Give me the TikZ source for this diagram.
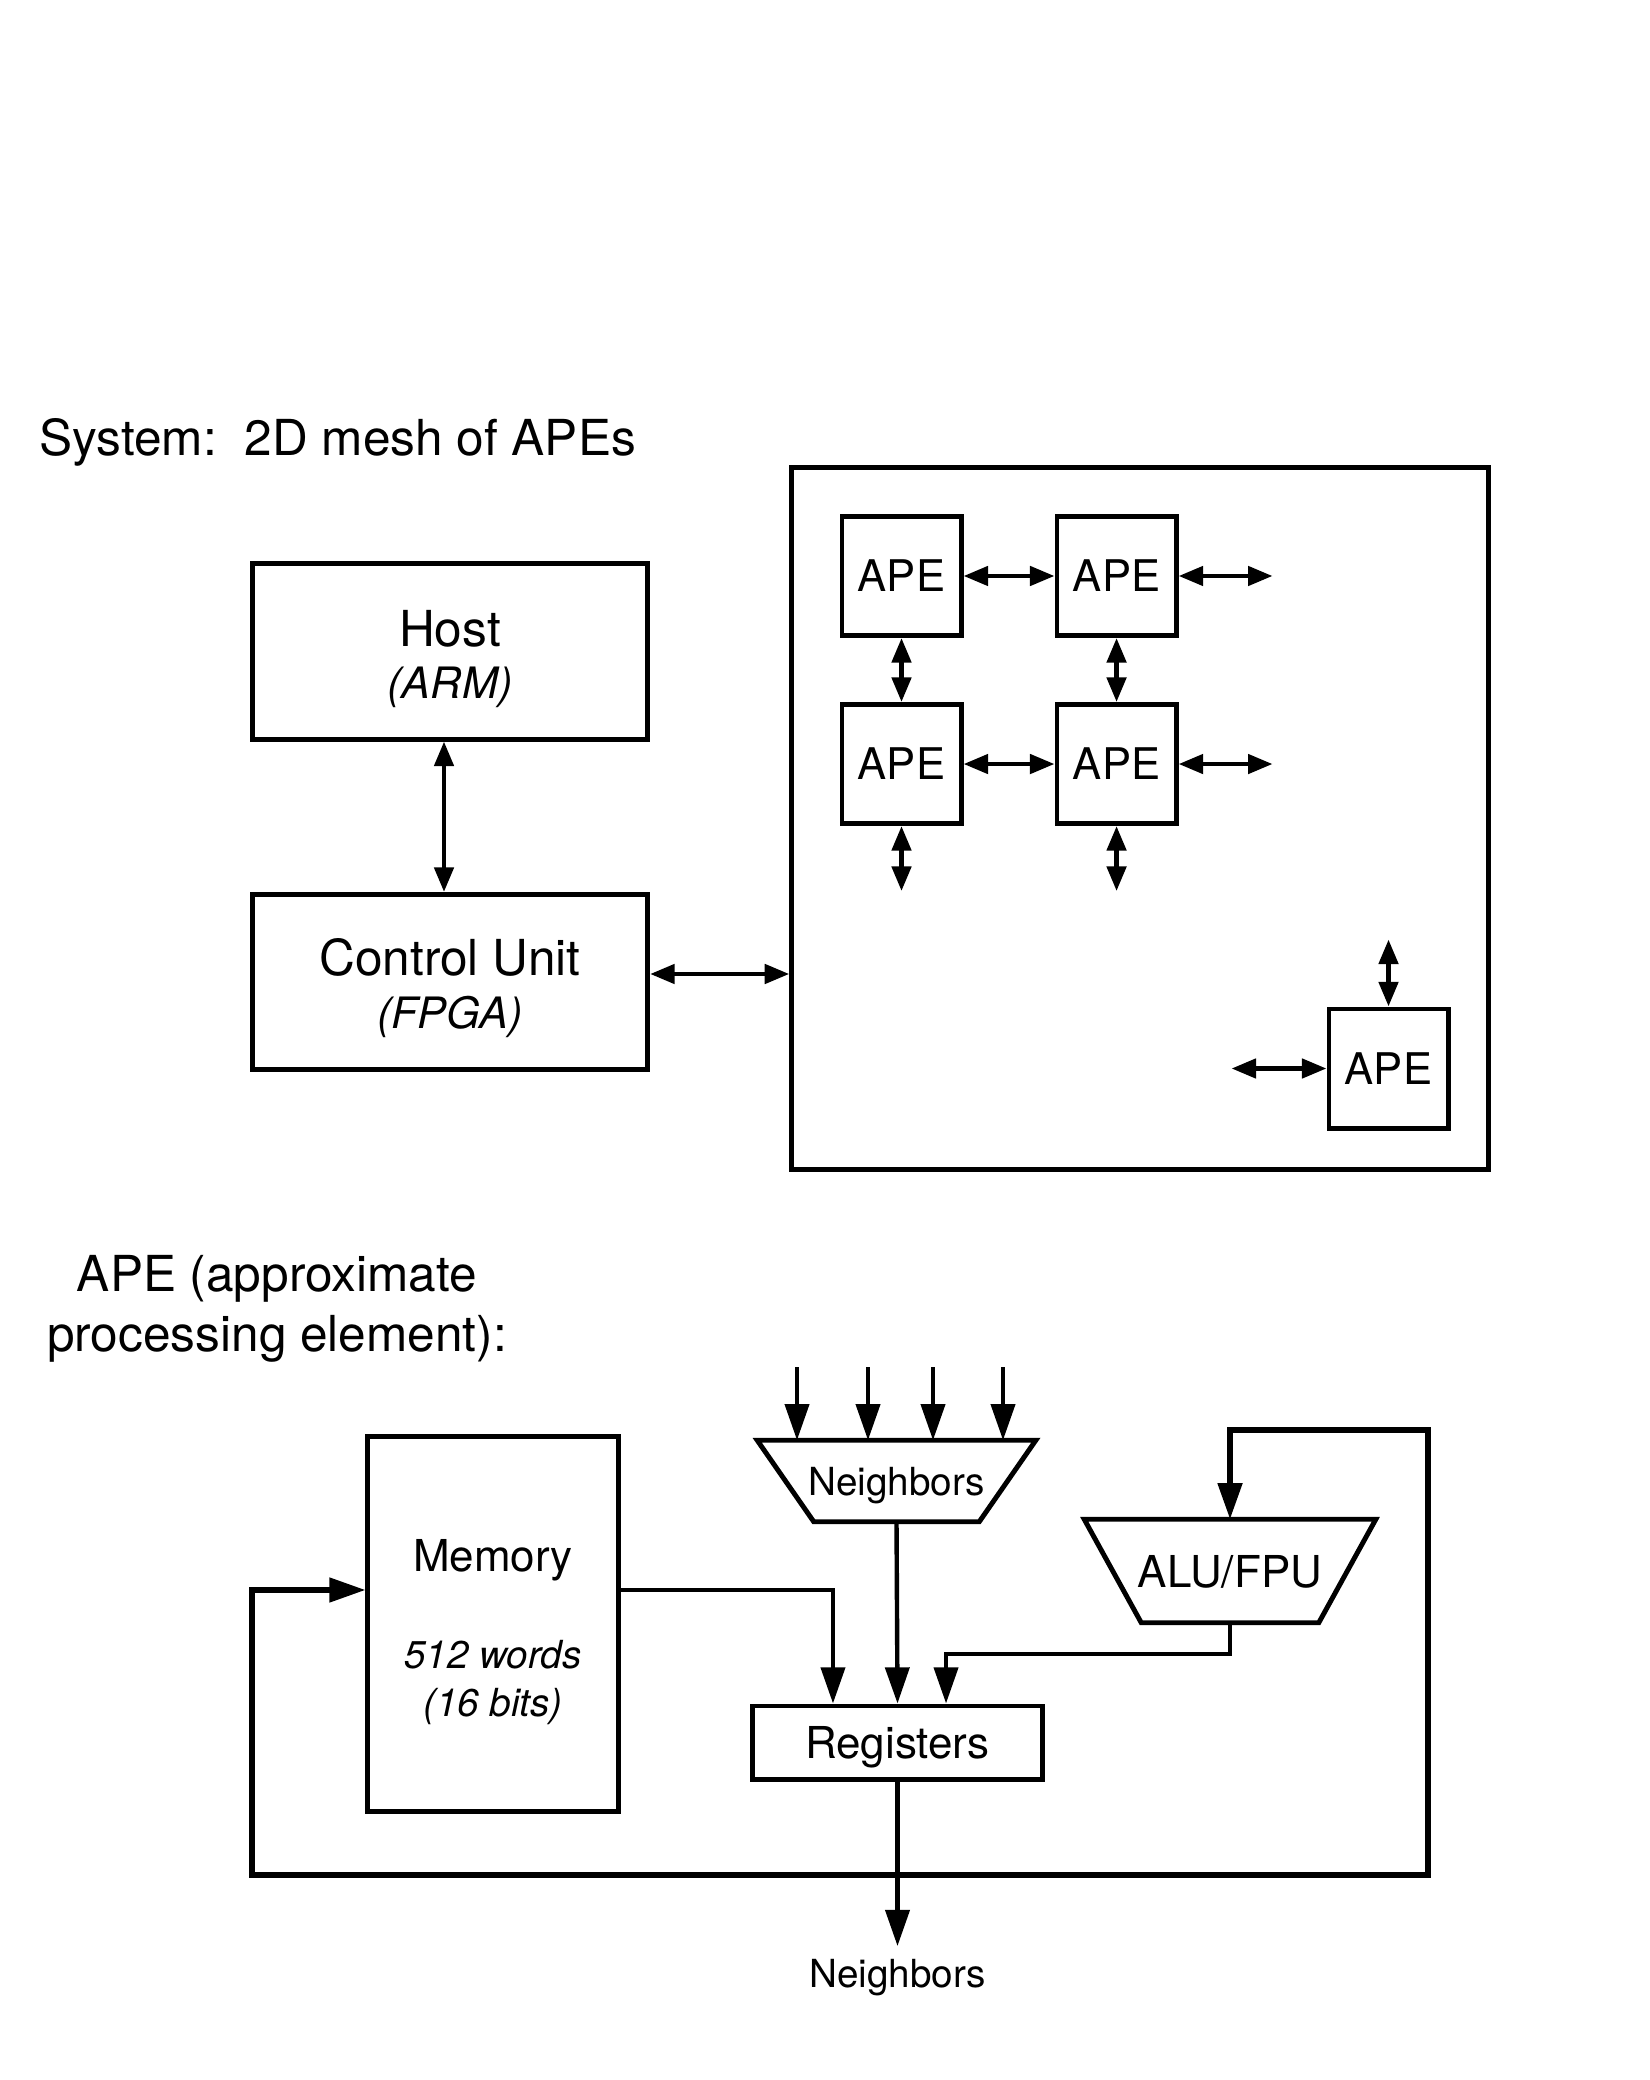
\documentclass[tikz,border=0pt]{standalone}
\usepackage{fontspec}
\setmainfont{TeX Gyre Heros}
\usetikzlibrary{positioning,arrows.meta}

\begin{document}
\begin{tikzpicture}[x=0.01cm, y=-0.01cm,
                    box/.style={draw, line width=1.4pt, inner sep=0pt},
                    txt/.style={inner sep=0pt, align=center},
                    ape/.style={box, minimum width=1.19cm, minimum height=1.19cm, font=\fontsize{12.4}{14}\selectfont},
                    mux/.style={inner sep=0pt, text depth=0pt},
                    link/.style={line width=1.35pt, {Triangle[length=7pt,width=5.4pt]}-{Triangle[length=7pt,width=5.4pt]}},
                    flow/.style={line width=1.25pt, -{Triangle[length=10.3pt,width=6.8pt]}}]

  \useasboundingbox (0,0) rectangle (1649,2080);

  % system view
  \node[anchor=base west, font=\fontsize{14.1}{17}\selectfont] (systitle) at (27,456) {System:\ \ 2D mesh of APEs};

  \node[box, minimum width=3.95cm, minimum height=1.75cm] (host) at (450,651.5) {};
  \node[txt, font=\fontsize{14.1}{14.8}\selectfont] (hosttxt) at ([yshift=-0.08cm]host.center)
       {Host\\{\fontsize{12.3}{14.8}\selectfont\itshape (ARM)}};
  \node[box, minimum width=3.95cm, minimum height=1.75cm] (ctrl) at (450,982) {};
  \node[txt, font=\fontsize{14.1}{15}\selectfont] (ctrltxt) at ([yshift=-0.06cm]ctrl.center)
       {Control Unit\\{\fontsize{12.3}{15}\selectfont\itshape (FPGA)}};
  \node[box, minimum width=6.96cm, minimum height=7.01cm] (mesh) at (1140,818.5) {};

  \node[ape] (a11) at (901.5,576) {APE};
  \node[ape] (a12) [right=0.91cm of a11] {APE};
  \node[ape] (a21) [below=0.64cm of a11] {APE};
  \node[ape] (a22) [right=0.91cm of a21] {APE};
  \node[ape] (ann) at (1388.5,1068.5) {APE};

  \coordinate (hs) at ([xshift=-0.06cm]host.south);
  \coordinate (cn) at ([xshift=-0.06cm]ctrl.north);
  \coordinate (cu) at ([yshift=0.08cm]ctrl.east);
  \coordinate (e12) at ([xshift=0.94cm]a12.east);
  \coordinate (e22) at ([xshift=0.94cm]a22.east);
  \coordinate (s21) at ([yshift=-0.65cm]a21.south);
  \coordinate (s22) at ([yshift=-0.65cm]a22.south);
  \coordinate (nnn) at ([yshift=0.67cm]ann.north);
  \coordinate (wnn) at ([xshift=-0.95cm]ann.west);

  \path (hs) edge[link] (cn)
        (cu) edge[link] (cu -| mesh.west)
        (a11) edge[link] (a12)
        (a21) edge[link] (a22)
        (a11) edge[link] (a21)
        (a12) edge[link] (a22)
        (a12.east) edge[link] (e12)
        (a22.east) edge[link] (e22)
        (a21.south) edge[link] (s21)
        (a22.south) edge[link] (s22)
        (ann.north) edge[link] (nnn)
        (ann.west) edge[link] (wnn);

  % one APE
  \node[txt, font=\fontsize{14.1}{17}\selectfont] (apetitle) at (277,1309) {APE (approximate\\processing element):};

  \node[box, minimum width=2.5cm, minimum height=3.74cm] (mem) at (493,1624) {};
  \node[txt, font=\fontsize{12.5}{13.4}\selectfont] (memtxt) at ([yshift=-0.08cm]mem.center)
       {Memory\\[14.2pt]{\fontsize{11}{13.4}\selectfont\itshape 512 words}\\{\fontsize{11}{13.4}\selectfont\itshape (16 bits)}};
  \node[mux, minimum width=2.77cm, minimum height=0.8cm, font=\fontsize{11}{13}\selectfont] (nbr) at (896.5,1481) {Neighbors};
  \node[mux, minimum width=2.9cm, minimum height=1.02cm, font=\fontsize{12.5}{14}\selectfont] (alu) at (1230,1571) {ALU/FPU};
  \node[box, text depth=0pt, minimum width=2.89cm, minimum height=0.73cm, font=\fontsize{12.5}{14}\selectfont] (regs) at (897.5,1742.5) {Registers};
  \node[anchor=base, inner sep=0.12cm, font=\fontsize{11}{13}\selectfont] (nbout) at (897.5,1987) {Neighbors};

  \draw[line width=1.4pt, line join=miter] (nbr.north west) -- (nbr.north east) -- ([xshift=-0.565cm]nbr.south east)
       -- ([xshift=0.565cm]nbr.south west) -- cycle;
  \draw[line width=1.4pt, line join=miter] (alu.north west) -- (alu.north east) -- ([xshift=-0.57cm]alu.south east)
       -- ([xshift=0.57cm]alu.south west) -- cycle;

  \foreach \x [count=\i] in {797,868,933,1003}
    \draw[flow] (\x,1367) coordinate (in\i) -- (in\i |- nbr.north);

  \coordinate (loopy) at (0,1875);
  \coordinate (j) at (regs.south |- loopy);
  \coordinate (lb) at (252,1875);
  \coordinate (rt) at (1428,1430);
  \coordinate (m0) at ([yshift=0.34cm]mem.west);
  \coordinate (m1) at ([yshift=0.34cm]mem.east);

  \draw[flow] (m1) -| ([xshift=-0.645cm]regs.north);
  \draw[flow] (nbr.south) -- (regs.north);
  \draw[flow] (alu.south) -- ++(0,31) -| ([xshift=0.485cm]regs.north);
  \draw[flow] (regs.south) -- (nbout.north);
  \draw[flow, line width=1.5pt] (j) -- (lb) |- (m0);
  \draw[flow, line width=1.5pt] (j) -| (rt) -| (alu.north);

\end{tikzpicture}
\end{document}
